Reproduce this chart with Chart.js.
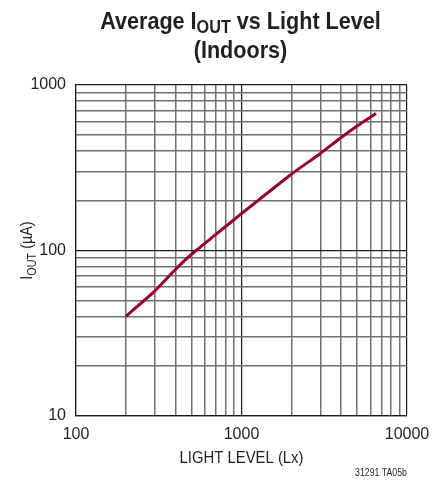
<!DOCTYPE html>
<html>
<head>
<meta charset="utf-8">
<script src="https://cdn.jsdelivr.net/npm/chart.js@4.4.1/dist/chart.umd.min.js"></script>
<style>
  html, body { margin: 0; padding: 0; background: #fff; }
  canvas { display: block; }
</style>
</head>
<body>
<canvas id="ioutChart" width="442" height="481"></canvas>
<script>
// measured output current vs. illuminance
const lightLevel = [200, 300, 400, 500, 700, 1000, 2000, 3000, 4000, 5000, 6500];
const ioutMicroAmps = [40, 57, 77, 95, 125, 167, 289, 386, 482, 565, 672];

// log grid lines (1..9 per decade)
const xTicks = [100, 200, 300, 400, 500, 600, 700, 800, 900,
  1000, 2000, 3000, 4000, 5000, 6000, 7000, 8000, 9000, 10000];
const yTicks = [10, 20, 30, 40, 50, 60, 70, 80, 90,
  100, 200, 300, 400, 500, 600, 700, 800, 900, 1000];
const xLabels = [100, 1000, 10000];
const yLabels = [10, 100, 1000];

const SANS = '"Liberation Sans", Arial, sans-serif';
const INK = '#231f20';
const SQUEEZE = 0.9; // condensed look for the headline text

function isDecade(v) {
  const e = Math.log10(v);
  return Math.abs(e - Math.round(e)) < 1e-9;
}

// draws a run of text pieces (with subscripts) starting at x
function drawRuns(ctx, runs, x, y) {
  let cx = x;
  for (const r of runs) {
    ctx.font = r.font;
    ctx.fillText(r.text, cx, y + (r.dy || 0));
    cx += ctx.measureText(r.text).width;
  }
}
function runsWidth(ctx, runs) {
  let w = 0;
  for (const r of runs) {
    ctx.font = r.font;
    w += ctx.measureText(r.text).width;
  }
  return w;
}
// centred, horizontally squeezed text run
function drawCentered(ctx, runs, cx, y, sx) {
  ctx.save();
  ctx.translate(cx, y);
  ctx.scale(sx, 1);
  drawRuns(ctx, runs, -runsWidth(ctx, runs) / 2, 0);
  ctx.restore();
}

const labelsPlugin = {
  id: 'labels',
  afterDraw(chart) {
    const ctx = chart.ctx;
    const area = chart.chartArea;
    const cx = (area.left + area.right) / 2;
    ctx.save();
    ctx.fillStyle = INK;
    ctx.textBaseline = 'alphabetic';
    ctx.textAlign = 'left';

    // title
    const tBold = 'bold 24px ' + SANS;
    const tSub = 'bold 18px ' + SANS;
    drawCentered(ctx, [
      { text: 'Average I', font: tBold },
      { text: 'OUT', font: tSub, dy: 4 },
      { text: ' vs Light Level', font: tBold }
    ], cx - 1, 29, SQUEEZE);
    drawCentered(ctx, [{ text: '(Indoors)', font: tBold }], cx - 1, 58, SQUEEZE);

    // y axis title, rotated
    const cy = (area.top + area.bottom) / 2;
    ctx.save();
    ctx.translate(32, cy);
    ctx.rotate(-Math.PI / 2);
    drawCentered(ctx, [
      { text: 'I', font: '16px ' + SANS },
      { text: 'OUT', font: '12px ' + SANS, dy: 4 },
      { text: ' (\u00b5A)', font: '16px ' + SANS }
    ], 0, 0, 0.9);
    ctx.restore();

    // x axis title
    ctx.font = '16px ' + SANS;
    ctx.textAlign = 'center';
    ctx.fillText('LIGHT LEVEL (Lx)', cx, 463, 124);

    // figure code
    ctx.font = '10.5px ' + SANS;
    ctx.textAlign = 'right';
    ctx.fillText('31291 TA05b', area.right, 476, 52);
    ctx.restore();
  }
};

function gridColor(c) {
  return c.tick && isDecade(c.tick.value) ? '#1a1a1a' : '#707070';
}
function gridWidth(c) {
  return c.tick && isDecade(c.tick.value) ? 1.2 : 1.5;
}

new Chart(document.getElementById('ioutChart'), {
  type: 'line',
  data: {
    datasets: [{
      data: lightLevel.map((x, i) => ({ x: x, y: ioutMicroAmps[i] })),
      borderColor: '#990030',
      borderWidth: 3,
      pointRadius: 0,
      tension: 0.2,
      fill: false
    }]
  },
  options: {
    responsive: false,
    animation: false,
    layout: { padding: { left: 0, right: 35, top: 85, bottom: 0 } },
    plugins: {
      legend: { display: false },
      tooltip: { enabled: false }
    },
    scales: {
      x: {
        type: 'logarithmic',
        min: 100,
        max: 10000,
        afterBuildTicks: s => { s.ticks = xTicks.map(v => ({ value: v })); },
        afterFit: s => { s.height = 65; },
        border: { display: true, color: '#1a1a1a', width: 1.2 },
        grid: { color: gridColor, lineWidth: gridWidth, drawTicks: false },
        ticks: {
          autoSkip: false,
          maxRotation: 0,
          padding: 9,
          color: INK,
          font: { family: SANS, size: 16 },
          callback: v => (xLabels.includes(v) ? String(v) : '')
        }
      },
      y: {
        type: 'logarithmic',
        min: 10,
        max: 1000,
        afterBuildTicks: s => { s.ticks = yTicks.map(v => ({ value: v })); },
        afterFit: s => { s.width = 76; },
        border: { display: true, color: '#1a1a1a', width: 1.2 },
        grid: { color: gridColor, lineWidth: gridWidth, drawTicks: false },
        ticks: {
          autoSkip: false,
          padding: 10,
          color: INK,
          font: { family: SANS, size: 16 },
          callback: v => (yLabels.includes(v) ? String(v) : '')
        }
      }
    }
  },
  plugins: [labelsPlugin]
});
</script>
</body>
</html>
